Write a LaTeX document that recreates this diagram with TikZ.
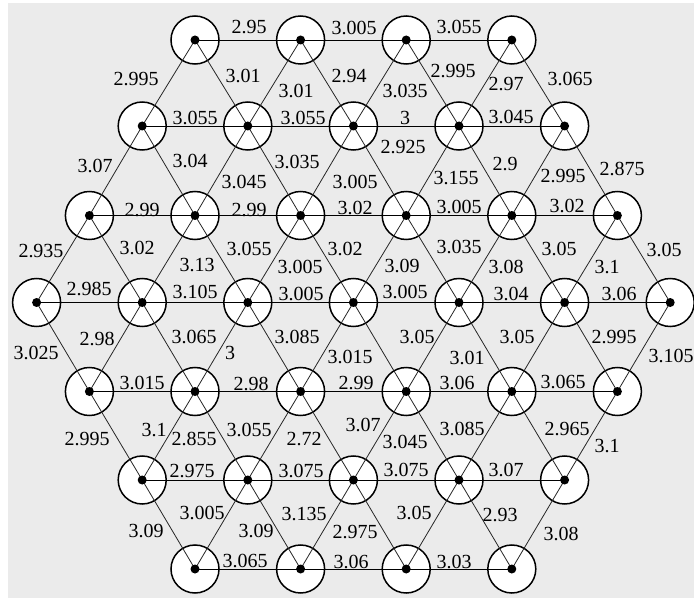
\documentclass[tikz,border=0pt]{standalone}
\usepackage{fontspec}
\setmainfont{Liberation Serif}
\newfontfamily\labfont{Liberation Serif}
\definecolor{bgc}{RGB}{235,235,235}
\begin{document}
\begin{tikzpicture}[x=1pt,y=-1pt,
  circ/.style={circle, draw=black, line width=1.5pt, fill=white, minimum size=48pt, inner sep=0pt},
  dotn/.style={circle, fill=black, minimum size=9pt, inner sep=0pt},
  hedge/.style={black, line width=0.9pt},
  dedge/.style={black!85, line width=0.8pt},
  lab/.style={font=\labfont\fontsize{20}{24}\selectfont, inner sep=0pt}]
\useasboundingbox (0,0) rectangle (694,599);
\fill[bgc] (8,3) rectangle (694,598);
% nodes (circles)
\foreach \r/\n/\yy in {0/4/40,1/5/126,2/6/215.5,3/7/302.5,4/6/391.5,5/5/480,6/4/569}{
  \pgfmathtruncatemacro{\m}{\n-1}
  \foreach \c in {0,...,\m}{
    \pgfmathsetmacro{\xx}{353.4+(\c-\m/2)*105.6}
    \node[circ] (n\r-\c) at (\xx,\yy) {};
  }
}
% horizontal connectors
\foreach \r/\n in {0/4,1/5,2/6,3/7,4/6,5/5,6/4}{
  \pgfmathtruncatemacro{\m}{\n-2}
  \foreach \c in {0,...,\m}{
    \pgfmathtruncatemacro{\d}{\c+1}
    \draw[hedge] (n\r-\c.center) -- (n\r-\d.center);
  }
}
% diagonal connectors, upper half
\foreach \r/\n in {0/4,1/5,2/6}{
  \pgfmathtruncatemacro{\s}{\r+1}
  \pgfmathtruncatemacro{\m}{\n-1}
  \foreach \c in {0,...,\m}{
    \pgfmathtruncatemacro{\d}{\c+1}
    \draw[dedge] (n\r-\c.center) -- (n\s-\c.center);
    \draw[dedge] (n\r-\c.center) -- (n\s-\d.center);
  }
}
% diagonal connectors, lower half
\foreach \r/\k in {3/6,4/5,5/4}{
  \pgfmathtruncatemacro{\s}{\r+1}
  \pgfmathtruncatemacro{\m}{\k-1}
  \foreach \c in {0,...,\m}{
    \pgfmathtruncatemacro{\d}{\c+1}
    \draw[dedge] (n\s-\c.center) -- (n\r-\c.center);
    \draw[dedge] (n\s-\c.center) -- (n\r-\d.center);
  }
}
% center dots
\foreach \r/\n in {0/4,1/5,2/6,3/7,4/6,5/5,6/4}{
  \pgfmathtruncatemacro{\m}{\n-1}
  \foreach \c in {0,...,\m}{
    \node[dotn] (d\r-\c) at (n\r-\c.center) {};
  }
}
% labels
\foreach \t/\lx/\ly [count=\i] in {
  2.95/249/27, 3.005/354/28, 3.055/459/27,
  3.055/195/118, 3.055/303/118, 3/405/118, 3.045/511/117,
  2.99/142/210, 2.99/249/210, 3.02/355/208, 3.005/459/207, 3.02/567/206,
  2.985/89/289, 3.105/195/292, 3.005/301/294, 3.005/405/292, 3.04/511/294, 3.06/619/294,
  3.015/142/383, 2.98/251/384, 2.99/356/383, 3.06/457/383, 3.065/563/382,
  2.975/192/471, 3.075/301/471, 3.075/406/470, 3.07/506/470,
  3.065/245/561, 3.06/351/562, 3.03/454/562,
  2.995/136/79, 3.01/243/76, 3.01/296/91, 2.94/349/76, 3.035/405/91, 2.995/453/71, 2.97/506/84, 3.065/570/79,
  3.07/95/166, 3.04/190/161, 3.045/244/182, 3.035/297/162, 3.005/355/182, 2.925/403/147, 3.155/456/178, 2.9/505/164, 2.995/563/176, 2.875/622/169,
  2.935/41/251, 3.02/137/248, 3.13/197/265, 3.055/249/249, 3.005/300/267, 3.02/345/249, 3.09/402/266, 3.035/459/247, 3.08/506/267, 3.05/559/249, 3.1/607/267, 3.05/664/250,
  3.025/36/353, 2.98/97/339, 3.065/194/337, 3/230/353, 3.085/297/337, 3.015/350/357, 3.05/417/337, 3.01/467/358, 3.05/517/337, 2.995/614/337, 3.105/671/356,
  2.995/87/439, 3.1/154/430, 2.855/194/439, 3.055/249/430, 2.72/304/439, 3.07/363/425, 3.045/405/442, 3.085/462/429, 2.965/567/429, 3.1/607/446,
  3.09/146/531, 3.005/202/513, 3.09/256/531, 3.135/304/514, 2.975/355/532, 3.05/414/513, 2.93/500/515, 3.08/561/534}{
  \node[lab] (l\i) at (\lx,\ly) {\t};
}
\end{tikzpicture}
\end{document}
